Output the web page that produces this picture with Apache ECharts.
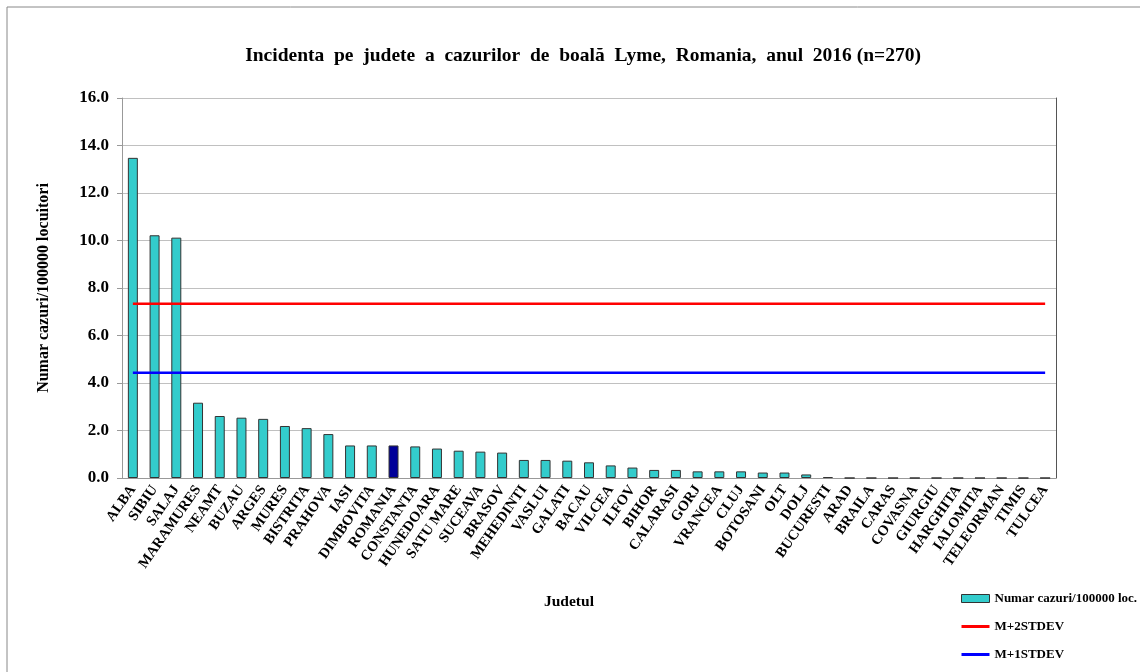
<!DOCTYPE html>
<html>
<head>
<meta charset="utf-8">
<script src="https://cdn.jsdelivr.net/npm/echarts@6/dist/echarts.min.js"></script>
<style>
html,body{margin:0;padding:0;background:#fff;}
#chart{width:1140px;height:672px;}
</style>
</head>
<body>
<div id="chart"></div>
<script>
const categories = ["ALBA","SIBIU","SALAJ","MARAMURES","NEAMT","BUZAU","ARGES","MURES","BISTRITA","PRAHOVA","IASI","DIMBOVITA","ROMANIA","CONSTANTA","HUNEDOARA","SATU MARE","SUCEAVA","BRASOV","MEHEDINTI","VASLUI","GALATI","BACAU","VILCEA","ILFOV","BIHOR","CALARASI","GORJ","VRANCEA","CLUJ","BOTOSANI","OLT","DOLJ","BUCURESTI","ARAD","BRAILA","CARAS","COVASNA","GIURGIU","HARGHITA","IALOMITA","TELEORMAN","TIMIS","TULCEA"];
const incidence = [13.48,10.22,10.12,3.17,2.61,2.54,2.49,2.19,2.10,1.85,1.37,1.37,1.37,1.33,1.24,1.15,1.11,1.07,0.76,0.76,0.73,0.66,0.53,0.44,0.34,0.34,0.28,0.28,0.28,0.23,0.23,0.15,0.04,0,0,0,0,0,0,0,0,0,0];
const mPlus2Stdev = 7.34;
const mPlus1Stdev = 4.43;
const highlight = "ROMANIA";
const yTicks = [0,2,4,6,8,10,12,14,16];

const font = "'Liberation Serif','Times New Roman',serif";
const chart = echarts.init(document.getElementById('chart'));
const barData = incidence.map((v,i)=>({
  value:v,
  itemStyle:{color: categories[i]===highlight ? '#000099' : '#33CCCC'}
}));
const lineIcon = 'path://M0,0H28V3H0Z';
chart.setOption({
  animation:false,
  backgroundColor:'#fff',
  title:{
    text:'Incidenta  pe  judete  a  cazurilor  de  boală  Lyme,  Romania,  anul  2016 (n=270)',
    left:578, textAlign:'center', top:41,
    textStyle:{fontFamily:font,fontWeight:'bold',fontSize:19.5,color:'#000'}
  },
  grid:{left:122,right:84,top:98,bottom:194,containLabel:false},
  legend:{
    orient:'vertical', left:956, top:587, itemGap:15, itemWidth:28, itemHeight:12,
    textStyle:{fontFamily:font,fontWeight:'bold',fontSize:13,color:'#000'},
    data:[
      {name:'Numar cazuri/100000 loc.', icon:'path://M0,0H28V8H0Z', itemStyle:{color:'#33CCCC',borderColor:'#333',borderWidth:1}},
      {name:'M+2STDEV', icon:lineIcon, itemStyle:{color:'#ff0000'}},
      {name:'M+1STDEV', icon:lineIcon, itemStyle:{color:'#0000ff'}}
    ]
  },
  graphic:[
    {type:'rect',shape:{x:7,y:7,width:1160,height:700},style:{fill:'none',stroke:'#888',lineWidth:1},silent:true},
    {type:'text',left:544,top:594,style:{text:'Judetul',font:"bold 15.5px "+font,fill:'#000'}}
  ],
  xAxis:{
    type:'category', data:categories,
    axisLine:{lineStyle:{color:'#999'}},
    axisTick:{show:false},
    axisLabel:{rotate:55,interval:0,fontFamily:font,fontWeight:'bold',fontSize:14.5,color:'#000',margin:9}
  },
  yAxis:[{
    type:'value', min:yTicks[0], max:yTicks[yTicks.length-1], interval:2,
    name:'Numar cazuri/100000 locuitori', nameLocation:'middle', nameGap:70, nameRotate:90,
    nameTextStyle:{fontFamily:font,fontWeight:'bold',fontSize:16,color:'#000'},
    axisLine:{show:true,lineStyle:{color:'#999'}},
    axisTick:{show:true,length:5,lineStyle:{color:'#999'}},
    axisLabel:{fontFamily:font,fontWeight:'bold',fontSize:17,color:'#000',margin:13,formatter:v=>v.toFixed(1)},
    splitLine:{lineStyle:{color:'#c0c0c0'}}
  },{
    type:'value', min:yTicks[0], max:yTicks[yTicks.length-1], interval:2, position:'right',
    axisLine:{show:true,lineStyle:{color:'#555'}},
    axisTick:{show:false}, axisLabel:{show:false}, splitLine:{show:false}
  }],
  series:[
    {name:'Numar cazuri/100000 loc.', type:'bar', data:barData, barWidth:'46%',
     itemStyle:{borderColor:'#333',borderWidth:1}},
    {name:'M+2STDEV', type:'line', data:categories.map(()=>mPlus2Stdev), showSymbol:false, symbol:'none',
     lineStyle:{color:'#ff0000',width:2.5}, itemStyle:{color:'#ff0000'}},
    {name:'M+1STDEV', type:'line', data:categories.map(()=>mPlus1Stdev), showSymbol:false, symbol:'none',
     lineStyle:{color:'#0000ff',width:2.5}, itemStyle:{color:'#0000ff'}}
  ]
});
</script>
</body>
</html>
